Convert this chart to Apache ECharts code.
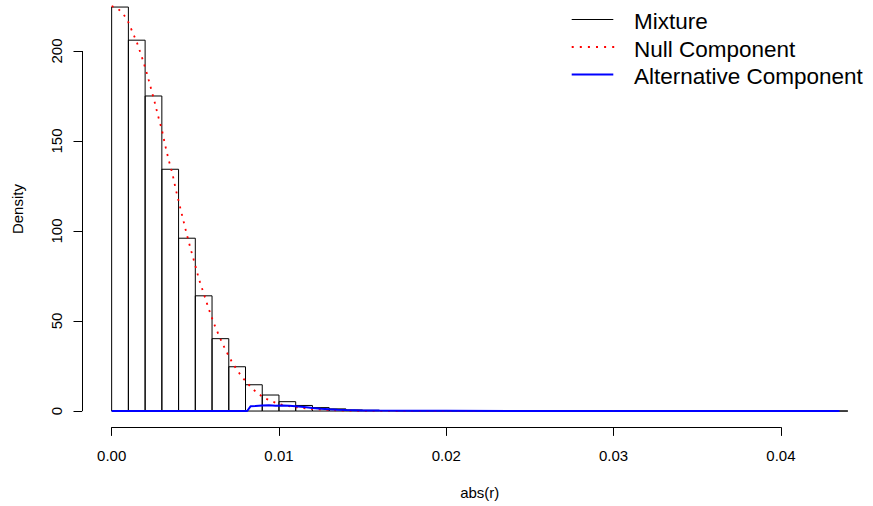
<!DOCTYPE html>
<html>
<head>
<meta charset="utf-8">
<script src="https://cdn.jsdelivr.net/npm/echarts@6/dist/echarts.min.js"></script>
<style>
html,body{margin:0;padding:0;background:#fff;}
#chart{width:873px;height:506px;}
</style>
</head>
<body>
<div id="chart"></div>
<script>
// ---- Data ----
const histBreaks = [0,0.001,0.002,0.003,0.004,0.005,0.006,0.007,0.008,0.009,0.010,0.011,0.012,0.013,0.014,0.015,0.016,0.017,0.018,0.019,0.020,0.021,0.022,0.023,0.024,0.025,0.026,0.027,0.028,0.029,0.030,0.031,0.032,0.033,0.034,0.035,0.036,0.037,0.038,0.039,0.040,0.041,0.042,0.043,0.044];
const mixtureDensity = [224.4,206,175,134.3,96,64,40.2,24.6,14.6,8.9,5.2,3.1,1.9,1.2,0.6,0.4,0.3,0.2,0.15,0.12,0.1,0.1,0.08,0.08,0.07,0.07,0.06,0.06,0.05,0.05,0.05,0.04,0.04,0.04,0.04,0.03,0.03,0.03,0.03,0.03,0.02,0.02,0.02,0.02];

const nullR = [0,0.0004,0.00072,0.00096,0.00114,0.0015,0.0018,0.00207,0.00231,0.00255,0.00277,0.00301,0.0032,0.0034,0.00365,0.00384,0.00406,0.00428,0.0045,0.00474,0.00498,0.00522,0.00552,0.0058,0.0061,0.00646,0.00683,0.00727,0.00779,0.0084,0.00912,0.00998,0.0105,0.011,0.012,0.013,0.014,0.015,0.016,0.018,0.02,0.025,0.03,0.035,0.04,0.0435];
const nullDensity = [225,223.3,220.2,216.8,212.8,205,196.8,188.7,180.6,172.4,164.1,155.9,147.6,139.8,131.1,122.8,114.4,106.1,97.8,89.4,81.5,73.2,64.8,56.8,48.9,40.9,33.5,25.9,18.9,12.4,7.2,3.9,2.9,2.1,1.1,0.55,0.25,0.1,0.05,0.02,0.01,0,0,0,0,0];

const altR = [0,0.0081,0.0083,0.0086,0.009,0.0094,0.0098,0.0102,0.0106,0.011,0.0115,0.012,0.0125,0.013,0.0135,0.014,0.015,0.016,0.018,0.02,0.025,0.03,0.035,0.04,0.0435];
const altDensity = [0,0,2.6,2.8,3.1,3.2,3.0,3.1,2.9,2.6,2.2,1.7,1.3,1.0,0.75,0.55,0.35,0.25,0.15,0.12,0.08,0.06,0.05,0.04,0.03];

const xTicks = [0,0.01,0.02,0.03,0.04];
const yTicks = [0,50,100,150,200];
const seriesNames = ['Mixture','Null Component','Alternative Component'];
const xLabel = 'abs(r)';
const yLabel = 'Density';

// ---- Build ----
const xMin = histBreaks[0] - 0.04*(histBreaks[histBreaks.length-1]-histBreaks[0]);
const xMax = histBreaks[histBreaks.length-1] + 0.04*(histBreaks[histBreaks.length-1]-histBreaks[0]);
const yTop = Math.max.apply(null, mixtureDensity);
const yMin = -0.04*yTop, yMax = yTop*1.04;

const histData = mixtureDensity.map((v,i)=>[histBreaks[i], histBreaks[i+1], v]);
const nullData = nullR.map((r,i)=>[r, nullDensity[i]]);
const altData = altR.map((r,i)=>[r, altDensity[i]]);

const FONT = "'Liberation Sans', Arial, Helvetica, sans-serif";
const speck = (w,h)=>'M0,0h0.01v0.01h-0.01z M'+(w-0.01)+','+(h-0.01)+'h0.01v0.01h-0.01z ';
const IW = 57.3, IH = 23;
let dots = '';
for (let k=0;k<6;k++){ const x=k*8.1; dots += 'M'+x+',8.5h2v2h-2z '; }

const chart = echarts.init(document.getElementById('chart'), null, {renderer:'svg'});
chart.setOption({
  animation:false,
  backgroundColor:'#ffffff',
  textStyle:{fontFamily:FONT},
  grid:{left:82.2, top:-9.1, width:795.1, height:436.3, containLabel:false, outerBoundsMode:'none'},
  legend:{
    orient:'vertical', left:571.7, top:10, padding:0, itemWidth:IW, itemHeight:IH, itemGap:4.5,
    selectedMode:false, symbolKeepAspect:true,
    textStyle:{fontFamily:FONT, fontSize:22.5, color:'#000', lineHeight:23},
    data:[
      {name:seriesNames[0], icon:'path://'+speck(IW,IH)+'M0,9H41.6V10H0Z', itemStyle:{color:'#000', borderWidth:0}},
      {name:seriesNames[1], icon:'path://'+speck(IW,IH)+dots, itemStyle:{color:'#ff0000', borderWidth:0}},
      {name:seriesNames[2], icon:'path://'+speck(IW,IH)+'M0,8.5H41.6V10.5H0Z', itemStyle:{color:'#0000ff', borderWidth:0}}
    ]
  },
  xAxis:{
    type:'value', min:xMin, max:xMax,
    name:xLabel, nameLocation:'middle', nameGap:58,
    nameTextStyle:{fontFamily:FONT, fontSize:15, color:'#000'},
    axisLine:{show:false, onZero:false},
    axisTick:{show:true, length:8.7, customValues:xTicks, lineStyle:{color:'#000', width:1}},
    axisLabel:{show:true, customValues:xTicks, margin:20.5, fontFamily:FONT, fontSize:15, color:'#000', formatter:v=>v.toFixed(2)},
    splitLine:{show:false}
  },
  yAxis:{
    type:'value', min:yMin, max:yMax,
    name:yLabel, nameLocation:'middle', nameGap:57.7, nameRotate:90,
    nameTextStyle:{fontFamily:FONT, fontSize:15, color:'#000'},
    axisLine:{show:false, onZero:false},
    axisTick:{show:true, length:8.7, customValues:yTicks, lineStyle:{color:'#000', width:1}},
    axisLabel:{show:true, customValues:yTicks, rotate:90, margin:18, fontFamily:FONT, fontSize:15, color:'#000', formatter:v=>String(Math.round(v))},
    splitLine:{show:false}
  },
  series:[
    {
      name:seriesNames[0], type:'custom', data:histData, encode:{x:[0,1], y:2}, clip:false, silent:true,
      renderItem:(params, api)=>{
        const p0 = api.coord([api.value(0), api.value(2)]);
        const p1 = api.coord([api.value(1), 0]);
        return {type:'rect', shape:{x:p0[0], y:p0[1], width:p1[0]-p0[0], height:p1[1]-p0[1]},
                style:{fill:'none', stroke:'#000', lineWidth:1}};
      }
    },
    {
      name:seriesNames[1], type:'line', data:nullData, symbol:'none', showSymbol:false, silent:true, clip:false,
      lineStyle:{color:'#ff0000', width:1.8, type:[2,5.7]}, itemStyle:{color:'#ff0000'}
    },
    {
      name:seriesNames[2], type:'line', data:altData, symbol:'none', showSymbol:false, silent:true, clip:false,
      lineStyle:{color:'#0000ff', width:2}, itemStyle:{color:'#0000ff'},
      markLine:{
        silent:true, symbol:'none', label:{show:false}, animation:false,
        lineStyle:{color:'#000', width:1, type:'solid'},
        emphasis:{disabled:true},
        data:[
          [{coord:[xMin, yTicks[0]]},{coord:[xMin, yTicks[yTicks.length-1]]}],
          [{coord:[xTicks[0], yMin]},{coord:[xTicks[xTicks.length-1], yMin]}]
        ]
      }
    }
  ]
});
</script>
</body>
</html>
